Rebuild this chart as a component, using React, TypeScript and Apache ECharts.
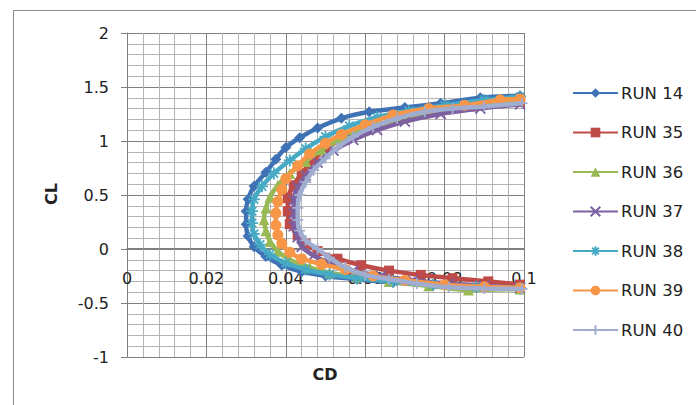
import React, { useEffect, useRef } from "react";
import * as echarts from "echarts";

// [CD, CL] pairs
const runNames = ["RUN 14", "RUN 35", "RUN 36", "RUN 37", "RUN 38", "RUN 39", "RUN 40"];

const run14 = [
  [0.099, -0.37], [0.088, -0.355], [0.077, -0.34], [0.067, -0.31], [0.058, -0.28], [0.050, -0.25],
  [0.044, -0.21], [0.039, -0.15], [0.035, -0.07], [0.032, 0.02], [0.0305, 0.12], [0.030, 0.23],
  [0.030, 0.35], [0.0305, 0.46], [0.032, 0.58], [0.035, 0.71], [0.0375, 0.83], [0.040, 0.94],
  [0.0435, 1.03], [0.048, 1.12], [0.054, 1.21], [0.061, 1.27], [0.070, 1.31], [0.079, 1.35],
  [0.089, 1.40], [0.099, 1.42],
];
const run35 = [
  [0.099, -0.33], [0.091, -0.30], [0.082, -0.27], [0.074, -0.24], [0.066, -0.20], [0.059, -0.15],
  [0.053, -0.09], [0.048, -0.02], [0.045, 0.05], [0.043, 0.13], [0.041, 0.23], [0.0405, 0.35],
  [0.0405, 0.47], [0.042, 0.59], [0.044, 0.70], [0.047, 0.82], [0.050, 0.93], [0.055, 1.03],
  [0.061, 1.12], [0.068, 1.20], [0.077, 1.27], [0.087, 1.32], [0.099, 1.36],
];
const run36 = [
  [0.099, -0.37], [0.086, -0.38], [0.076, -0.34], [0.066, -0.30], [0.058, -0.26], [0.051, -0.22],
  [0.046, -0.17], [0.041, -0.10], [0.038, -0.02], [0.036, 0.07], [0.035, 0.17], [0.0345, 0.27],
  [0.035, 0.38], [0.036, 0.48], [0.038, 0.59], [0.041, 0.70], [0.045, 0.81], [0.049, 0.92],
  [0.054, 1.02], [0.060, 1.11], [0.067, 1.19], [0.075, 1.26], [0.084, 1.32], [0.093, 1.36],
  [0.099, 1.39],
];
const run37 = [
  [0.099, -0.36], [0.090, -0.34], [0.081, -0.32], [0.072, -0.29], [0.064, -0.25], [0.057, -0.20],
  [0.051, -0.13], [0.047, -0.06], [0.044, 0.02], [0.043, 0.11], [0.042, 0.21], [0.042, 0.33],
  [0.042, 0.45], [0.043, 0.57], [0.045, 0.68], [0.048, 0.80], [0.052, 0.91], [0.057, 1.01],
  [0.063, 1.10], [0.070, 1.18], [0.079, 1.25], [0.089, 1.30], [0.099, 1.34],
];
const run38 = [
  [0.099, -0.36], [0.088, -0.35], [0.077, -0.33], [0.067, -0.30], [0.058, -0.27], [0.051, -0.235],
  [0.045, -0.19], [0.040, -0.13], [0.036, -0.05], [0.0335, 0.04], [0.032, 0.14], [0.0315, 0.24],
  [0.0315, 0.35], [0.032, 0.46], [0.034, 0.58], [0.037, 0.70], [0.041, 0.82], [0.045, 0.93],
  [0.050, 1.04], [0.056, 1.14], [0.063, 1.22], [0.071, 1.28], [0.080, 1.33], [0.090, 1.38],
  [0.099, 1.41],
];
const run39 = [
  [0.099, -0.36], [0.090, -0.35], [0.080, -0.33], [0.070, -0.29], [0.062, -0.25], [0.055, -0.19],
  [0.049, -0.14], [0.044, -0.09], [0.041, -0.03], [0.039, 0.05], [0.038, 0.13], [0.0375, 0.22],
  [0.0375, 0.33], [0.038, 0.44], [0.039, 0.55], [0.040, 0.65], [0.043, 0.77], [0.046, 0.88],
  [0.050, 0.98], [0.054, 1.06], [0.060, 1.15], [0.067, 1.24], [0.076, 1.30], [0.085, 1.33],
  [0.094, 1.38], [0.099, 1.39],
];
const run40 = [
  [0.0995, -0.37], [0.090, -0.365], [0.081, -0.355], [0.073, -0.32], [0.066, -0.28], [0.060, -0.24],
  [0.055, -0.17], [0.051, -0.08], [0.048, 0.0], [0.045, 0.08], [0.0435, 0.17], [0.043, 0.27],
  [0.043, 0.38], [0.0435, 0.50], [0.045, 0.62], [0.047, 0.73], [0.050, 0.84], [0.053, 0.94],
  [0.057, 1.04], [0.062, 1.13], [0.068, 1.21], [0.075, 1.27], [0.082, 1.30], [0.090, 1.32],
  [0.0995, 1.35],
];

const runData = [run14, run35, run36, run37, run38, run39, run40];
const runColors = ["#3f72b5", "#be4b48", "#98b954", "#7d60a0", "#46aac5", "#f79646", "#a0acd0"];
const runSymbols = [
  "diamond",
  "rect",
  "triangle",
  "path://M0,0 L10,10 M10,0 L0,10",
  "path://M5,0 L5,10 M0,5 L10,5 M1.5,1.5 L8.5,8.5 M8.5,1.5 L1.5,8.5",
  "circle",
  "path://M5,0 L5,10 M0,5 L10,5",
];
const runSymbolSizes = [11, 10, 11, 10, 12, 11, 11];
const runStroked = [false, false, false, true, true, false, true];

const FONT = "DejaVu Sans";

export default function App() {
  const ref = useRef<HTMLDivElement>(null);
  useEffect(() => {
    if (!ref.current) return;
    const chart = echarts.init(ref.current, undefined, { renderer: "svg" });
    const series = runNames.map((name, i) => ({
      type: "line",
      name,
      data: runData[i],
      smooth: 0.3,
      symbol: runSymbols[i],
      symbolSize: runSymbolSizes[i],
      lineStyle: { color: runColors[i], width: 4.5 },
      itemStyle: {
        color: runColors[i],
        borderColor: runColors[i],
        borderWidth: runStroked[i] ? 1.8 : 0,
      },
      emphasis: { disabled: true },
      z: 2 + i,
    }));
    chart.setOption({
      animation: false,
      backgroundColor: "#ffffff",
      grid: { left: 127, right: 172, top: 33, bottom: 48, containLabel: false },
      xAxis: {
        type: "value",
        min: 0,
        max: 0.1,
        interval: 0.02,
        position: "bottom",
        offset: -109,
        axisLine: { onZero: false, lineStyle: { color: "#7f7f7f", width: 1 } },
        axisTick: { show: true, length: 5, lineStyle: { color: "#7f7f7f" } },
        axisLabel: { margin: 22, color: "#222", fontFamily: FONT, fontSize: 16 },
        splitLine: { show: true, lineStyle: { color: "#808080", width: 1 } },
        minorTick: { show: false, splitNumber: 5 },
        minorSplitLine: { show: true, lineStyle: { color: "#b4b4b4", width: 1 } },
      },
      yAxis: {
        type: "value",
        min: -1,
        max: 2,
        interval: 0.5,
        axisLine: { show: true, onZero: false, lineStyle: { color: "#7f7f7f", width: 1 } },
        axisTick: { show: true, length: 6, lineStyle: { color: "#7f7f7f" } },
        axisLabel: { margin: 18, color: "#222", fontFamily: FONT, fontSize: 16 },
        splitLine: { show: true, lineStyle: { color: "#808080", width: 1 } },
        minorTick: { show: false, splitNumber: 5 },
        minorSplitLine: { show: true, lineStyle: { color: "#b4b4b4", width: 1 } },
      },
      legend: {
        orient: "vertical",
        left: 572,
        top: 83,
        padding: 0,
        itemWidth: 45,
        itemHeight: 12,
        itemGap: 19.5,
        data: runNames,
        textStyle: { color: "#222", fontFamily: FONT, fontSize: 16.5, lineHeight: 20, padding: [0, 0, 0, -2] },
        selectedMode: false,
      },
      graphic: [
        {
          type: "rect",
          shape: { x: 13.5, y: 10.5, width: 720, height: 420 },
          style: { fill: "none", stroke: "#8c8c8c", lineWidth: 1 },
          silent: true,
        },
        {
          type: "text",
          x: 51,
          y: 194,
          rotation: Math.PI / 2,
          style: {
            text: "CL",
            font: `bold 16px "${FONT}"`,
            fill: "#222",
            textAlign: "center",
            textVerticalAlign: "middle",
          },
        },
        {
          type: "text",
          x: 325,
          y: 374,
          style: {
            text: "CD",
            font: `bold 16px "${FONT}"`,
            fill: "#222",
            textAlign: "center",
            textVerticalAlign: "middle",
          },
        },
      ],
      series,
    });
    return () => chart.dispose();
  }, []);
  return (
    <div
      ref={ref}
      style={{ position: "absolute", left: 0, top: 0, width: 696, height: 405, background: "#fff" }}
    />
  );
}
